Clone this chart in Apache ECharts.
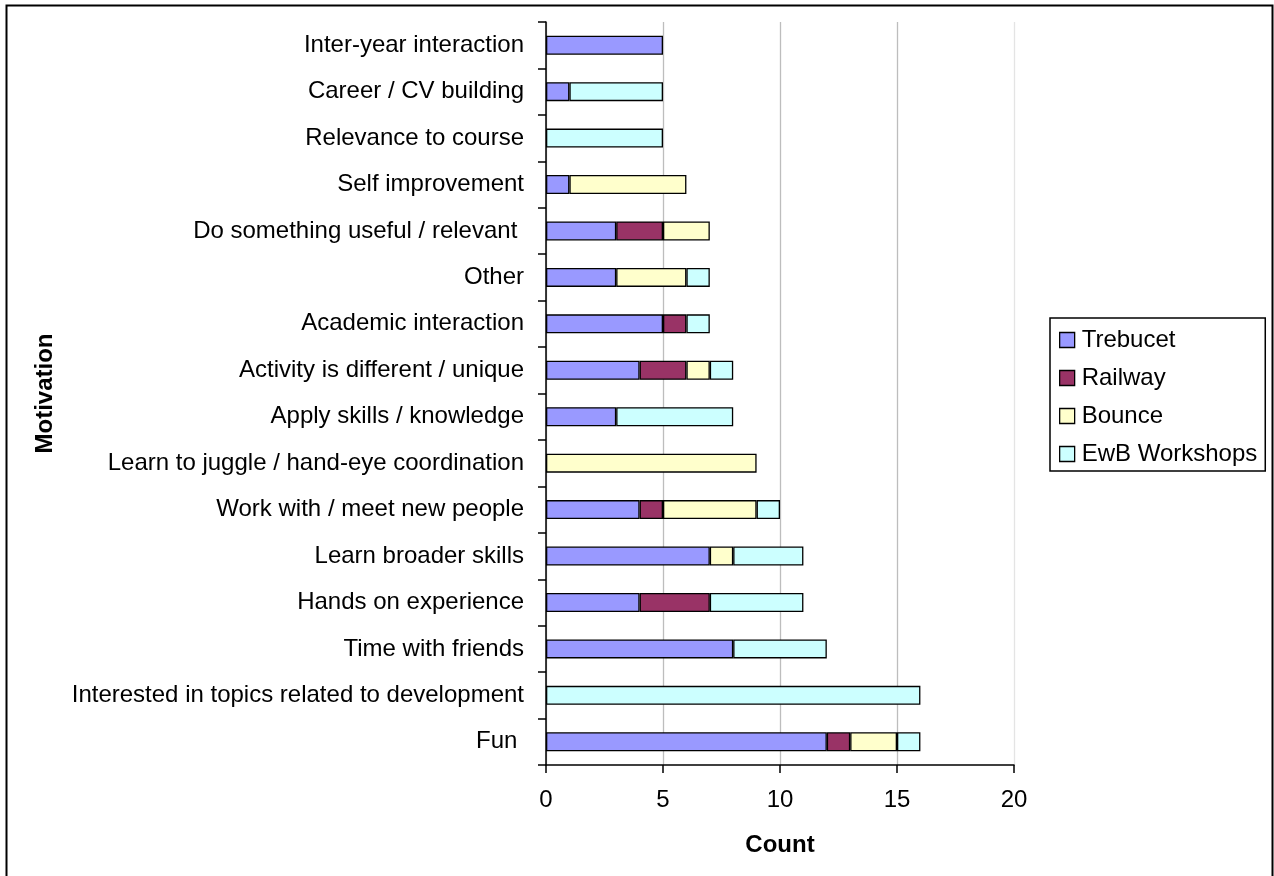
<!DOCTYPE html>
<html>
<head>
<meta charset="utf-8">
<script src="https://cdn.jsdelivr.net/npm/echarts@6/dist/echarts.min.js"></script>
<style>
html,body{margin:0;padding:0;background:#fff;}
#c{width:1274px;height:876px;}
</style>
</head>
<body>
<div id="c"></div>
<script>
const categories = [
  'Inter-year interaction',
  'Career / CV building',
  'Relevance to course',
  'Self improvement',
  'Do something useful / relevant ',
  'Other',
  'Academic interaction',
  'Activity is different / unique',
  'Apply skills / knowledge',
  'Learn to juggle / hand-eye coordination',
  'Work with / meet new people',
  'Learn broader skills',
  'Hands on experience',
  'Time with friends',
  'Interested in topics related to development',
  'Fun '
];
const trebucet = [5,1,0,1,3,3,5,4,3,0,4,7,4,8,0,12];
const railway  = [0,0,0,0,2,0,1,2,0,0,1,0,3,0,0,1];
const bounce   = [0,0,0,5,2,3,0,1,0,9,4,1,0,0,0,2];
const ewb      = [0,4,5,0,0,1,1,1,5,0,1,3,4,4,16,1];
const xTicks = [0,5,10,15,20];

const FONT = 'Liberation Sans, Arial, sans-serif';
function nz(a){ return a.map(v => v === 0 ? null : v); }
function mk(name, data, color){
  return {
    name: name, type: 'bar', stack: 'total', data: nz(data),
    barWidth: 19,
    itemStyle: {color: color, borderColor: '#000', borderWidth: 1.3},
    emphasis: {disabled: true}
  };
}
const chart = echarts.init(document.getElementById('c'), null, {renderer: 'canvas'});
chart.setOption({
  animation: false,
  backgroundColor: '#fff',
  textStyle: {fontFamily: FONT, color: '#000'},
  graphic: [{
    type: 'rect', shape: {x: 6.5, y: 5.5, width: 1266, height: 900},
    style: {fill: 'none', stroke: '#000', lineWidth: 2}, silent: true
  }],
  grid: {left: 546, right: 260, top: 22, bottom: 111, containLabel: false},
  legend: {
    orient: 'vertical', left: 1050, top: 318,
    data: ['Trebucet','Railway','Bounce','EwB Workshops'],
    itemWidth: 15, itemHeight: 15, itemGap: 14,
    padding: [10, 8, 5, 9],
    borderColor: '#000', borderWidth: 1.5,
    icon: 'rect',
    itemStyle: {borderColor: '#000', borderWidth: 1.3},
    textStyle: {fontFamily: FONT, fontSize: 24, color: '#000', lineHeight: 24, padding: [0,0,0,2]},
    selectedMode: false
  },
  xAxis: {
    type: 'value', min: 0, max: 20, interval: 5,
    name: 'Count', nameLocation: 'middle', nameGap: 68,
    nameTextStyle: {fontFamily: FONT, fontSize: 24, fontWeight: 'bold', color: '#000'},
    axisLine: {show: true, lineStyle: {color: '#000', width: 1.5}},
    axisTick: {show: true, length: 8, lineStyle: {color: '#000', width: 1.5}},
    axisLabel: {fontFamily: FONT, fontSize: 24, color: '#000', margin: 23,
      formatter: v => xTicks.indexOf(v) >= 0 ? String(v) : ''},
    splitLine: {show: true, lineStyle: {color: ['#bdbdbd','#bdbdbd','#bdbdbd','#bdbdbd','#e4e4e4'], width: 1.3}}
  },
  yAxis: {
    type: 'category', inverse: true, data: categories,
    name: 'Motivation', nameLocation: 'middle', nameGap: 489, nameRotate: 90,
    nameTextStyle: {fontFamily: FONT, fontSize: 24, fontWeight: 'bold', color: '#000'},
    axisLine: {show: true, lineStyle: {color: '#000', width: 1.5}},
    axisTick: {show: true, length: 8, alignWithLabel: false, lineStyle: {color: '#000', width: 1.5}},
    axisLabel: {fontFamily: FONT, fontSize: 24, color: '#000', margin: 22, interval: 0},
    splitLine: {show: false}
  },
  series: [
    mk('Trebucet', trebucet, '#9999FF'),
    mk('Railway', railway, '#993366'),
    mk('Bounce', bounce, '#FFFFCC'),
    mk('EwB Workshops', ewb, '#CCFFFF')
  ]
});
</script>
</body>
</html>
